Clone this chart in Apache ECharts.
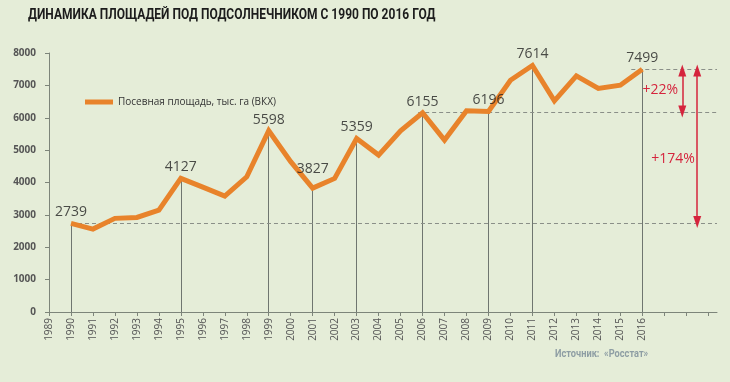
<!DOCTYPE html>
<html><head><meta charset="utf-8">
<script src="https://cdn.jsdelivr.net/npm/echarts@6/dist/echarts.min.js"></script>
<style>html,body{margin:0;padding:0;background:#e5edd8}#c{width:730px;height:382px}</style>
</head><body><div id="c"></div>
<script>
const years = [1990,1991,1992,1993,1994,1995,1996,1997,1998,1999,2000,2001,2002,2003,2004,2005,2006,2007,2008,2009,2010,2011,2012,2013,2014,2015,2016];
const area = [2739,2562,2892,2922,3148,4127,3858,3580,4176,5598,4643,3827,4126,5359,4846,5596,6155,5309,6214,6196,7160,7614,6523,7294,6904,7006,7499];
const labeledYears = [1990,1995,1999,2001,2003,2006,2009,2011,2016];
const tickYears = [1989,1990,1991,1992,1993,1994,1995,1996,1997,1998,1999,2000,2001,2002,2003,2004,2005,2006,2007,2008,2009,2010,2011,2012,2013,2014,2015,2016,2017,2018,2019];
const labelYears = tickYears.filter(y => y <= 2016);
const seriesName = 'Посевная площадь, тыс. га (ВКХ)';
const titleText = 'ДИНАМИКА ПЛОЩАДЕЙ ПОД ПОДСОЛНЕЧНИКОМ С 1990 ПО 2016 ГОД';
const sourceText = 'Источник:  «Росстат»';
const pct22 = '+22%', pct174 = '+174%';

const valOf = y => area[years.indexOf(y)];
const xEnd = 2019.4;
const vBase = valOf(1990), vMid = valOf(2006), vTop = valOf(2016);

const chart = echarts.init(document.getElementById('c'));
const grey = '#7d857a';
chart.setOption({
  backgroundColor: '#e5edd8',
  animation: false,
  graphic: [
    {type: 'text', x: 28, y: 8, scaleX: 0.8, style: {text: titleText, fontFamily: 'Roboto', fontWeight: 'bold', fontSize: 15, fill: '#1c1c1c'}},
    {type: 'text', x: 555, y: 349, scaleX: 0.84, style: {text: sourceText, fontFamily: 'Roboto', fontWeight: 'bold', fontSize: 11, fill: '#8e9ea4'}}
  ],
  legend: {left: 80, top: 92, icon: 'rect', itemWidth: 28, itemHeight: 5, itemGap: 10, data: [seriesName],
    textStyle: {fontFamily: 'Open Sans', fontSize: 10, color: '#333'}},
  grid: {left: 49, right: 13, top: 53, bottom: 70},
  xAxis: {type: 'value', min: 1989, max: xEnd, interval: 1,
    axisLine: {lineStyle: {color: grey, width: 1}},
    axisTick: {show: true, length: 4, customValues: tickYears, lineStyle: {color: grey}},
    axisLabel: {customValues: labelYears, rotate: 90, fontSize: 10, color: '#555', fontFamily: 'Open Sans', margin: 6, formatter: v => String(v)},
    splitLine: {show: false}},
  yAxis: {type: 'value', min: 0, max: 8000, interval: 1000,
    axisLine: {show: true, lineStyle: {color: grey, width: 1}},
    axisTick: {show: true, length: 4, lineStyle: {color: grey}},
    axisLabel: {fontSize: 10, fontWeight: 'bold', color: '#555', fontFamily: 'Open Sans', margin: 13, formatter: v => String(v)},
    splitLine: {show: false}},
  series: [
    {name: 'guides', type: 'line', data: [], silent: true,
      markLine: {silent: true, symbol: 'none', label: {show: false},
        data: [
          ...labeledYears.map(y => [{coord: [y, 0], lineStyle: {color: '#6f7670', width: 1, type: 'solid'}}, {coord: [y, valOf(y)]}]),
          [{coord: [1990, vBase], lineStyle: {color: '#8a8f88', width: 1, type: [4, 3]}}, {coord: [xEnd, vBase]}],
          [{coord: [2005.8, vMid], lineStyle: {color: '#8a8f88', width: 1, type: [4, 3]}}, {coord: [xEnd, vMid]}],
          [{coord: [2015.5, vTop], lineStyle: {color: '#8a8f88', width: 1, type: [4, 3]}}, {coord: [xEnd, vTop]}]
        ]}},
    {name: 'arrows', type: 'line', data: [], silent: true,
      markLine: {silent: true, symbol: ['triangle', 'triangle'], symbolSize: [8, 12], label: {show: false},
        lineStyle: {color: '#d5253d', width: 1.5, type: 'solid'},
        data: [
          [{coord: [2017.82, vTop - 40]}, {coord: [2017.82, vMid + 40]}],
          [{coord: [2018.5, vTop - 40]}, {coord: [2018.5, vBase + 40]}]
        ]},
      markPoint: {symbolSize: 0, label: {show: true, color: '#d5253d', fontSize: 14, fontFamily: 'Open Sans'},
        data: [
          {coord: [2016.82, 6850], value: pct22, label: {formatter: pct22}},
          {coord: [2017.4, 4720], value: pct174, label: {formatter: pct174}}
        ]}},
    {name: seriesName, type: 'line', data: years.map((y, i) => [y, area[i]]), showSymbol: false, symbol: 'none',
      lineStyle: {color: '#e8832b', width: 5, join: 'miter'}, itemStyle: {color: '#e8832b'}, z: 5},
    {name: 'labels', type: 'scatter', symbolSize: 0, z: 6,
      data: labeledYears.map(y => ({value: [y, valOf(y)], label: y === 2001 ? {distance: 12} : {}})),
      label: {show: true, position: 'top', distance: 4, fontSize: 14, color: '#222', fontFamily: 'Open Sans',
        formatter: p => String(p.value[1])}}
  ]
});
</script></body></html>
